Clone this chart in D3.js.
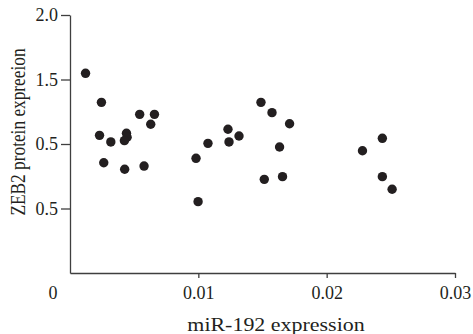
<!doctype html>
<html>
<head>
<meta charset="utf-8">
<title>ZEB2 vs miR-192</title>
<style>
  body { margin: 0; background: #fff; }
  svg text { font-family: "Times New Roman", "Liberation Serif", Times, serif; fill: #231f20; }
  .axis path, .axis line { stroke: #3f3f3f; stroke-width: 1.3px; }
  .dot { fill: #231f20; }
</style>
</head>
<body>
<script src="https://d3js.org/d3.v7.min.js"></script>
<script>
// miR-192 expression (x) and ZEB2 protein expression (y)
var mirValues = [0.00121, 0.00245, 0.00543, 0.00658, 0.00629, 0.00230, 0.00318, 0.00440, 0.00445, 0.00424,
                 0.00263, 0.00426, 0.00577, 0.00982, 0.00998, 0.01075, 0.01231, 0.01239, 0.01317, 0.01488,
                 0.01574, 0.01711, 0.01633, 0.01514, 0.01656, 0.02279, 0.02434, 0.02434, 0.02510];
var zebValues = [1.548, 1.323, 1.230, 1.230, 1.153, 1.067, 1.016, 1.083, 1.052, 1.026,
                 0.855, 0.804, 0.829, 0.889, 0.553, 1.005, 1.114, 1.016, 1.062, 1.323,
                 1.243, 1.157, 0.977, 0.726, 0.747, 0.948, 1.044, 0.747, 0.649];
var xTickValues = [0.01, 0.02, 0.03];
var xTickLabels = ["0.01", "0.02", "0.03"];
var yTickValues = [2.0, 1.5, 1.0, 0.5];
var yTickLabels = ["2.0", "1.5", "0.5", "0.5"];   // as printed in the original

var width = 473, height = 334;

var svg = d3.select("body").append("svg")
  .attr("width", width)
  .attr("height", height);

var x = d3.scaleLinear().domain([0, 0.03]).range([70, 455]);
var y = d3.scaleLinear().domain([0, 2]).range([273, 15]);

var xAxis = d3.axisBottom(x)
  .tickValues(xTickValues)
  .tickFormat(function(d, i) { return xTickLabels[i]; })
  .tickSize(5)
  .tickSizeOuter(0)
  .tickPadding(8);

var yAxis = d3.axisLeft(y)
  .tickValues(yTickValues)
  .tickFormat(function(d, i) { return yTickLabels[i]; })
  .tickSize(9)
  .tickSizeOuter(0)
  .tickPadding(3);

var gx = svg.append("g")
  .attr("class", "axis")
  .attr("transform", "translate(0," + y(0) + ")")
  .call(xAxis);
gx.selectAll("text").attr("font-size", 18);

// origin label sits left of the corner
gx.append("text")
  .attr("x", x(0) - 17)
  .attr("y", 5 + 8)
  .attr("dy", "0.71em")
  .attr("text-anchor", "middle")
  .attr("font-size", 18)
  .text("0");

var gy = svg.append("g")
  .attr("class", "axis")
  .attr("transform", "translate(" + x(0) + ",0)")
  .call(yAxis);
gy.selectAll("text").attr("font-size", 18);

svg.append("text")
  .attr("transform", "translate(276,331) scale(1.22,1)")
  .attr("text-anchor", "middle")
  .attr("font-size", 18)
  .text("miR-192 expression");

svg.append("text")
  .attr("transform", "translate(25,132) scale(1.25,1) rotate(-90)")
  .attr("text-anchor", "middle")
  .attr("font-size", 17.3)
  .text("ZEB2 protein expreeion");

svg.selectAll(".dot")
  .data(mirValues)
  .enter().append("circle")
  .attr("class", "dot")
  .attr("cx", function(d) { return x(d); })
  .attr("cy", function(d, i) { return y(zebValues[i]); })
  .attr("r", 4.7);
</script>
</body>
</html>
